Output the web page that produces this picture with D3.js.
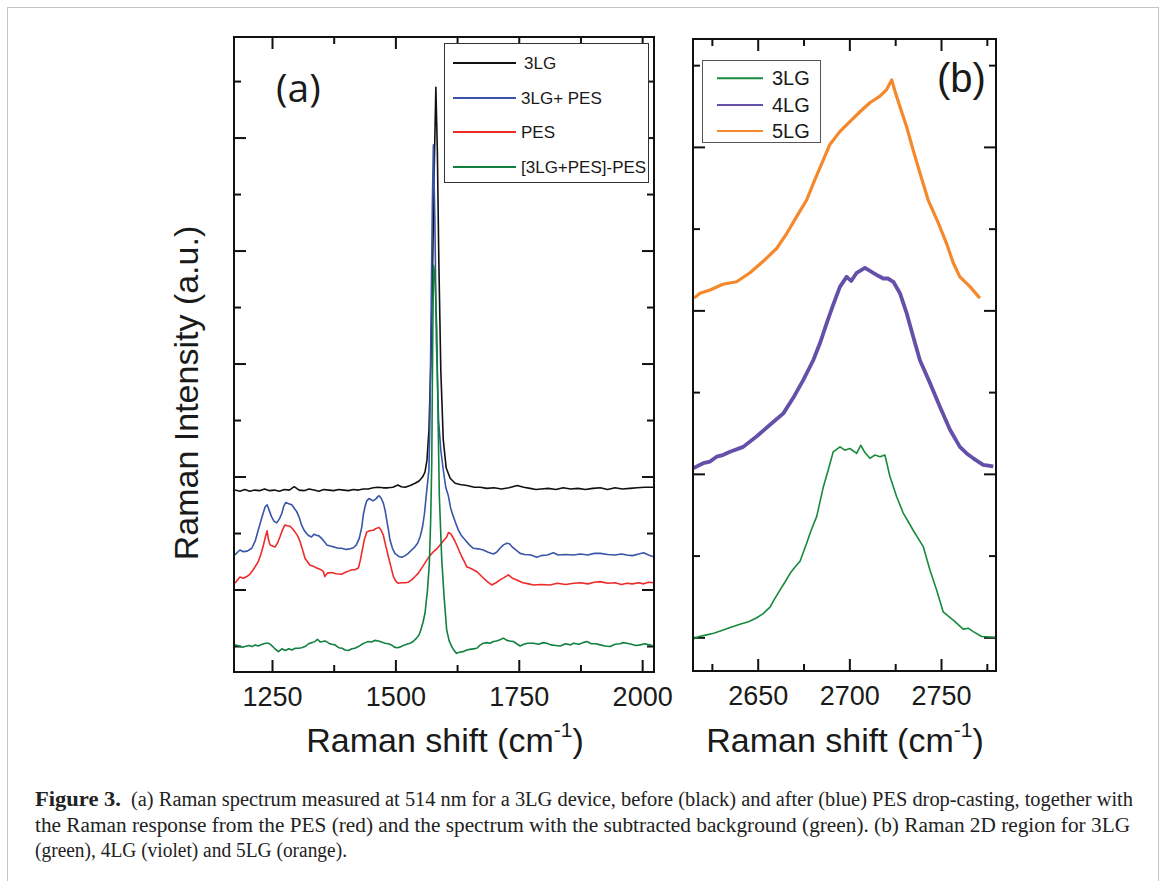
<!DOCTYPE html>
<html><head><meta charset="utf-8">
<script src="https://cdn.jsdelivr.net/npm/d3@7"></script>
<style>body{margin:0;background:#fff}</style>
</head><body><svg id="fig" width="1165" height="881"></svg>
<script>
// ---------------- DATA ----------------
// Panel (a): Raman shift (cm-1), intensity (a.u.)
const a_3LG = [[1175,27.6],[1185,27.4],[1195,27.7],[1205,27.4],[1215,27.6],[1225,27.5],[1235,27.8],[1245,27.5],[1255,27.6],[1265,27.4],[1275,27.7],[1285,27.6],[1295,28.2],[1305,27.6],[1315,27.5],[1325,27.8],[1335,27.6],[1345,27.4],[1355,27.7],[1365,27.6],[1375,27.5],[1385,27.7],[1395,27.6],[1405,27.5],[1415,27.7],[1425,27.6],[1435,27.8],[1445,27.8],[1455,28.0],[1465,28.1],[1475,28.0],[1485,28.0],[1495,28.1],[1505,28.5],[1512,28.2],[1520,28.1],[1530,28.4],[1540,28.8],[1548,29.2],[1555,29.9],[1560,30.8],[1564,32.9],[1568,38.2],[1572,50.6],[1576,70.1],[1579,86.0],[1582,98.9],[1585,87.8],[1588,68.3],[1592,48.8],[1597,36.5],[1603,31.5],[1611,29.7],[1621,28.8],[1631,28.6],[1645,28.4],[1660,28.1],[1672,28.1],[1685,27.9],[1700,28.0],[1715,27.8],[1730,28.0],[1747,28.4],[1760,28.1],[1773,27.9],[1785,27.7],[1795,27.8],[1810,27.9],[1825,27.7],[1840,28.0],[1855,27.8],[1870,27.9],[1885,27.7],[1900,27.9],[1915,28.0],[1930,27.7],[1945,28.0],[1960,27.8],[1975,27.9],[1990,28.0],[2005,28.1],[2015,28.1],[2023,28.1]];
const a_3LGPES = [[1175,16.1],[1180,16.6],[1185,17.0],[1192,16.7],[1200,16.8],[1209,17.3],[1216,18.6],[1222,20.5],[1228,22.3],[1232,23.5],[1236,24.6],[1240,25.0],[1244,24.1],[1249,22.9],[1254,22.1],[1259.5,21.8],[1265,22.5],[1270,23.5],[1274,24.8],[1278,25.4],[1284,25.2],[1290,25.0],[1295,24.4],[1300,23.8],[1305,22.8],[1310,21.4],[1315,20.5],[1320,19.9],[1325,19.5],[1330,19.3],[1335,19.8],[1340,19.6],[1345,19.5],[1350,19.1],[1355,18.6],[1361,17.9],[1368,17.7],[1377,17.5],[1384,17.3],[1391,17.3],[1400,17.1],[1408,17.2],[1415,17.4],[1421,17.9],[1427,19.1],[1432,21.1],[1435,23.2],[1438.5,24.7],[1442,25.7],[1446.6,26.1],[1451,25.9],[1455,25.7],[1460,26.0],[1464,26.4],[1467,26.6],[1471,26.2],[1475.6,25.3],[1479,24.1],[1482.5,22.3],[1486,20.5],[1489,18.8],[1494,17.3],[1499,16.4],[1506,15.9],[1513,15.7],[1520,16.0],[1526,16.4],[1533,17.0],[1540,17.6],[1545,18.2],[1550,19.3],[1555,21.1],[1559,23.5],[1563.6,27.6],[1568,31.2],[1570,40.0],[1572,55.9],[1575,78.9],[1577,88.7],[1580,75.4],[1583,54.2],[1587.5,40.0],[1592,34.7],[1597,31.2],[1602,28.1],[1607,26.7],[1612,24.4],[1617.5,22.9],[1622,21.8],[1627.7,20.5],[1634,19.5],[1641,18.8],[1650,17.9],[1658,17.3],[1668,17.2],[1678,17.0],[1688,16.6],[1698.6,16.3],[1705,16.6],[1712,17.3],[1719,17.9],[1725.8,18.2],[1731,18.1],[1736,17.6],[1744,17.0],[1752.7,16.4],[1762,16.2],[1775,16.1],[1786.6,15.7],[1795,16.0],[1808,16.1],[1820,16.5],[1830,16.1],[1845,16.2],[1861,16.1],[1875,16.3],[1890,16.1],[1903,16.4],[1915,16.4],[1930,16.2],[1945,16.1],[1958,16.3],[1969,16.1],[1980,16.0],[1993,16.3],[2003,16.5],[2013,16.1],[2023,15.8]];
const a_PES = [[1175,11.1],[1180,11.7],[1185,12.2],[1192,12.0],[1199,12.3],[1205,12.7],[1212,13.5],[1217,14.2],[1222,14.9],[1227,16.1],[1232,17.6],[1236,19.1],[1240,20.4],[1243,18.8],[1246,17.9],[1251,17.7],[1256,17.5],[1261,18.2],[1266,19.3],[1271,20.5],[1276,21.4],[1281,21.3],[1286.5,21.2],[1292,20.7],[1296.6,20.2],[1302,19.5],[1306.8,18.5],[1312,17.0],[1317,15.5],[1322,14.9],[1327,14.3],[1334,14.1],[1340.6,13.8],[1347,13.6],[1354,13.2],[1357,12.3],[1362,12.9],[1371,13.0],[1380,12.8],[1391,12.7],[1400,13.1],[1406,13.3],[1411.6,13.5],[1418,13.5],[1425,13.8],[1429,15.2],[1433,17.0],[1437,18.8],[1442,20.2],[1448,20.4],[1455,20.5],[1461,20.8],[1467,21.0],[1471,20.5],[1475.6,19.6],[1480,17.9],[1485.8,15.8],[1491,14.0],[1496,12.3],[1501,11.5],[1506,11.1],[1512,11.2],[1519.6,11.2],[1526,11.3],[1533,11.7],[1540,12.3],[1546.6,12.9],[1555,14.0],[1563.6,15.2],[1570,16.0],[1577,16.7],[1584,17.2],[1590.6,17.9],[1597,18.6],[1604,19.3],[1607.5,20.1],[1612,19.9],[1616,19.3],[1621,18.5],[1627,17.3],[1634.5,15.8],[1640,14.9],[1644.7,14.0],[1651,13.8],[1658,13.5],[1666,13.1],[1675,12.3],[1685,11.5],[1695,10.8],[1704,11.2],[1712,11.7],[1720,12.1],[1729,12.6],[1737,12.0],[1746,11.7],[1758,11.2],[1770,11.0],[1780,10.8],[1795,10.9],[1813.5,10.8],[1828,11.1],[1845,10.9],[1861,11.1],[1875,11.2],[1890,11.0],[1903,11.3],[1915,11.4],[1930,11.1],[1945,11.2],[1958,10.9],[1969,11.1],[1980,11.0],[1993,11.2],[2003,11.0],[2013,11.3],[2023,11.2]];
const a_diff = [[1175,0.2],[1183,0.0],[1190,-0.2],[1195,-0.1],[1203,0.1],[1210,-0.1],[1216,0.2],[1222,0.0],[1230,0.3],[1237,0.5],[1242.6,0.5],[1248,0.2],[1255,-0.4],[1263,-1.0],[1270,-0.5],[1277,-0.8],[1284,-0.5],[1290,-0.7],[1297,-0.4],[1304,-0.4],[1310,-0.3],[1317,-0.1],[1324,0.4],[1331,0.6],[1337,0.8],[1342,1.2],[1348,0.7],[1357.4,0.9],[1365,0.5],[1371,0.3],[1377.7,0.2],[1385,-0.3],[1392,-0.4],[1398,-0.7],[1404.7,-0.8],[1412,-0.5],[1418,-0.4],[1425,-0.1],[1432,0.3],[1439,0.6],[1445,0.8],[1452,0.7],[1458,1.0],[1465.5,0.9],[1472,0.7],[1479,0.5],[1485.8,0.4],[1492,0.2],[1498,-0.2],[1503,-0.3],[1509.5,-0.2],[1516,0.1],[1523,0.3],[1529.7,0.5],[1536,0.8],[1543,1.4],[1548,2.0],[1551.4,2.8],[1556,4.2],[1560,5.8],[1565,9.9],[1568.9,14.7],[1571.5,22.3],[1573.7,32.4],[1575.8,55.9],[1577.4,67.4],[1580,65.7],[1583.9,55.9],[1586.5,40.0],[1589.1,26.4],[1594,15.2],[1598.7,8.7],[1604,2.8],[1609,0.9],[1614.3,-0.1],[1619,-0.8],[1624,-1.3],[1630,-1.1],[1637,-1.0],[1644.7,-0.7],[1651,-0.6],[1658,-0.5],[1665,-0.4],[1671,0.1],[1678,0.5],[1685,0.6],[1692,0.5],[1698.6,0.8],[1705,0.9],[1712,1.1],[1719,1.4],[1726,1.0],[1732,0.9],[1739,0.8],[1746,0.4],[1752.7,0.0],[1760,0.3],[1768,0.5],[1779.7,0.5],[1790,0.3],[1800,0.6],[1806.8,0.5],[1815,0.2],[1825,0.1],[1834,0.0],[1845,0.4],[1855,0.2],[1861,0.5],[1872,0.3],[1880,0.6],[1888,0.8],[1897,0.4],[1906,0.4],[1915,0.2],[1925,0.0],[1935,-0.1],[1945,0.3],[1955,0.4],[1962,0.6],[1969,0.5],[1978,0.3],[1987,0.1],[1996,0.2],[2005,0.4],[2015,0.2],[2023,0.0]];

// Panel (b): 2D band
const b_3LG = [[2614.9,-0.2],[2618,0.1],[2622.2,0.3],[2626,0.5],[2631.2,0.9],[2635,1.2],[2640.3,1.6],[2645,1.9],[2649.5,2.4],[2653,2.9],[2656.7,3.7],[2659,4.6],[2662.2,5.8],[2665,6.8],[2667.6,7.8],[2670,8.5],[2673.1,9.3],[2676.7,11.5],[2679,13.0],[2682.2,14.8],[2685.8,18.4],[2688.5,20.5],[2691.2,22.7],[2694.9,23.3],[2697.5,22.9],[2700.3,23.1],[2704,22.5],[2706.2,23.5],[2708.5,22.6],[2711.2,21.9],[2714,22.3],[2716.7,22.1],[2719.4,22.3],[2722.1,19.7],[2725.8,17.2],[2729.4,15.2],[2732,14.2],[2734.8,13.1],[2740.3,11.1],[2744,8.2],[2747.6,5.8],[2751.2,3.1],[2754,2.6],[2756.7,2.1],[2762.1,1.0],[2765,1.1],[2767.6,0.7],[2772.2,0.1],[2778.5,0.0],[2780,0.0]];
const b_4LG = [[2614.9,20.7],[2620.3,21.3],[2624,21.5],[2627.6,22.1],[2631,22.3],[2634.9,22.7],[2642.1,23.3],[2649.5,24.6],[2656.7,26.0],[2664,27.4],[2669.4,29.3],[2674.9,31.5],[2680.3,33.9],[2684,36.0],[2687.6,38.4],[2691.2,40.7],[2694.9,42.9],[2698.5,44.1],[2701,43.6],[2704,44.6],[2708.5,45.2],[2713,44.6],[2716,44.2],[2718.5,43.9],[2721,43.9],[2724,43.5],[2727.6,42.1],[2731.2,39.7],[2734.8,36.8],[2738.5,33.9],[2744,31.1],[2749.4,28.2],[2754.9,25.4],[2760.3,23.3],[2764,22.5],[2767.6,21.9],[2773,21.1],[2778.5,20.9]];
const b_5LG = [[2615.3,41.5],[2618.5,42.1],[2624,42.5],[2631,43.2],[2638.5,43.5],[2645.8,44.6],[2653,46.0],[2660.4,47.6],[2665.8,49.4],[2671.3,51.5],[2676.7,53.5],[2681.2,56.0],[2685.8,58.4],[2689.4,60.3],[2694.9,61.9],[2700.3,63.1],[2705.8,64.3],[2711.2,65.4],[2716.7,66.2],[2720.3,67.0],[2723.1,68.2],[2724.9,66.8],[2727.6,64.9],[2731.2,62.5],[2734.8,59.6],[2738.5,56.8],[2743,53.5],[2748.5,50.7],[2753,48.2],[2756.7,45.8],[2760.3,44.1],[2765.8,42.9],[2771.2,41.5]];

// Ticks and labels
const xMajorA = [1250, 1500, 1750, 2000];
const xMinorA = [1375, 1625, 1875];
const yMajorA = [10, 30, 50, 70, 90];
const yMinorA = [0, 20, 40, 60, 80, 100];
const xMajorB = [2650, 2700, 2750];
const xMinorB = [2625, 2675, 2725, 2775];
const yMajorB = [0, 20, 40, 60];
const yMinorB = [10, 30, 50, 70];
const legendA = ["3LG", "3LG+ PES", "PES", "[3LG+PES]-PES"];
const legendB = ["3LG", "4LG", "5LG"];
const captionLines = [
  "(a) Raman spectrum measured at 514 nm for a 3LG device, before (black) and after (blue) PES drop-casting, together with",
  "the Raman response from the PES (red) and the spectrum with the subtracted background (green). (b) Raman 2D region for 3LG",
  "(green), 4LG (violet) and 5LG (orange)."
];

// ---------------- DRAW ----------------
const svg = d3.select('#fig');
svg.append('rect').attr('width',1165).attr('height',881).attr('fill','#fff');
svg.append('rect').attr('x',7.5).attr('y',7.5).attr('width',1151).attr('height',900)
   .attr('fill','none').attr('stroke','#c4c4c4').attr('stroke-width',1);

const FONT = "'Liberation Sans', Arial, sans-serif";

function panel(box, xDom, yDom, xMaj, xMin, yMaj, yMin, id) {
  const x = d3.scaleLinear().domain(xDom).range([box.l, box.r]);
  const y = d3.scaleLinear().domain(yDom).range([box.b, box.t]);
  const g = svg.append('g');
  const mk = (axis, tx, ty) => {
    const a = g.append('g').attr('transform', `translate(${tx},${ty})`).call(axis);
    a.select('.domain').remove();
    a.selectAll('line').attr('stroke','#111').attr('stroke-width',2);
    return a;
  };
  const bx = mk(d3.axisBottom(x).tickValues(xMaj).tickSize(-12).tickSizeOuter(0).tickPadding(15).tickFormat(d3.format('d')), 0, box.b);
  bx.selectAll('text').attr('font-family',FONT).attr('font-size',27).attr('fill','#1a1a1a');
  mk(d3.axisBottom(x).tickValues(xMin).tickSize(-7).tickSizeOuter(0).tickFormat(''), 0, box.b);
  mk(d3.axisTop(x).tickValues(xMaj).tickSize(-12).tickSizeOuter(0).tickFormat(''), 0, box.t);
  mk(d3.axisTop(x).tickValues(xMin).tickSize(-7).tickSizeOuter(0).tickFormat(''), 0, box.t);
  mk(d3.axisLeft(y).tickValues(yMaj).tickSize(-12).tickSizeOuter(0).tickFormat(''), box.l, 0);
  mk(d3.axisLeft(y).tickValues(yMin).tickSize(-7).tickSizeOuter(0).tickFormat(''), box.l, 0);
  mk(d3.axisRight(y).tickValues(yMaj).tickSize(-12).tickSizeOuter(0).tickFormat(''), box.r, 0);
  mk(d3.axisRight(y).tickValues(yMin).tickSize(-7).tickSizeOuter(0).tickFormat(''), box.r, 0);
  svg.append('clipPath').attr('id', id).append('rect')
     .attr('x', box.l).attr('y', box.t).attr('width', box.r-box.l).attr('height', box.b-box.t);
  const plot = svg.append('g').attr('clip-path', `url(#${id})`);
  const frame = () => svg.append('rect').attr('x',box.l).attr('y',box.t).attr('width',box.r-box.l).attr('height',box.b-box.t)
     .attr('fill','none').attr('stroke','#111').attr('stroke-width',2);
  return {x, y, plot, frame};
}

function line(p, data, color, w) {
  p.plot.append('path').datum(data).attr('fill','none').attr('stroke',color).attr('stroke-width',w)
    .attr('stroke-linejoin','round')
    .attr('d', d3.line().x(d=>p.x(d[0])).y(d=>p.y(d[1])));
}

function axisTitle(cx, y) {
  const t = svg.append('text').attr('x',cx).attr('y',y).attr('text-anchor','middle')
    .attr('font-family',FONT).attr('font-size',34).attr('fill','#1a1a1a');
  t.append('tspan').text('Raman shift (cm');
  t.append('tspan').attr('font-size',21).attr('dy',-15).text('-1');
  t.append('tspan').attr('dy',15).text(')');
}

// Panel (a)
const colA = ['#111111', '#3a55a8', '#ee2a2a', '#128040'];
const pA = panel({l:234, r:654, t:37, b:672}, [1173, 2024], [-4.6, 107.8], xMajorA, xMinorA, yMajorA, yMinorA, 'clipA');
[a_3LG, a_3LGPES, a_PES, a_diff].forEach((s,i) => line(pA, s, colA[i], 1.6));
pA.frame();

// legend (a)
svg.append('rect').attr('x',444.5).attr('y',43.5).attr('width',204).attr('height',139)
   .attr('fill','#fff').attr('stroke','#333').attr('stroke-width',1);
const legAy = [63, 98, 132, 167];
legendA.forEach((lab,i) => {
  svg.append('line').attr('x1',453).attr('x2',516).attr('y1',legAy[i]).attr('y2',legAy[i])
     .attr('stroke',colA[i]).attr('stroke-width',2);
  svg.append('text').attr('x', i===0 ? 524 : 521).attr('y', legAy[i]+6)
     .attr('font-family',FONT).attr('font-size',17).attr('fill','#1a1a1a').text(lab);
});
svg.append('text').attr('x',276).attr('y',102).attr('font-family',"'Open Sans', sans-serif")
   .attr('font-size',39).attr('fill','#1a1a1a').text('(a)');

// Panel (b)
const colB = ['#178a3c', '#6450a8', '#f5882a'];
const pB = panel({l:693, r:996, t:39, b:671}, [2614.7, 2780], [-4.12, 73.2], xMajorB, xMinorB, yMajorB, yMinorB, 'clipB');
line(pB, b_5LG, colB[2], 3.2);
line(pB, b_4LG, colB[1], 3.8);
line(pB, b_3LG, colB[0], 1.6);
pB.frame();

svg.append('rect').attr('x',702.5).attr('y',60.5).attr('width',118).attr('height',82)
   .attr('fill','#fff').attr('stroke','#555').attr('stroke-width',1);
const legBy = [78.3, 105, 131];
legendB.forEach((lab,i) => {
  svg.append('line').attr('x1',717).attr('x2',763).attr('y1',legBy[i]).attr('y2',legBy[i])
     .attr('stroke',colB[i]).attr('stroke-width',2);
  svg.append('text').attr('x',772).attr('y',legBy[i]+7)
     .attr('font-family',FONT).attr('font-size',20).attr('fill','#1a1a1a').text(lab);
});
svg.append('text').attr('x',937).attr('y',92).attr('font-family',FONT)
   .attr('font-size',40).attr('fill','#1a1a1a').text('(b)');

// axis titles
axisTitle(445, 752);
axisTitle(845, 752);
svg.append('text').attr('transform','translate(198,393) rotate(-90)').attr('text-anchor','middle')
   .attr('font-family',FONT).attr('font-size',34).attr('fill','#1a1a1a').text('Raman Intensity (a.u.)');

// caption
const SERIF = "'Liberation Serif', 'Times New Roman', serif";
svg.append('text').attr('x',35).attr('y',806).attr('font-family',SERIF).attr('font-weight','bold')
   .attr('font-size',20.5).attr('fill','#222').attr('textLength',86).attr('lengthAdjust','spacingAndGlyphs').text('Figure 3.');
const capX = [131, 35, 35], capW = [1002, 1095, 312], capY = [806, 832, 857];
captionLines.forEach((s,i) => {
  svg.append('text').attr('x',capX[i]).attr('y',capY[i]).attr('font-family',SERIF)
     .attr('font-size',20.5).attr('fill','#222').attr('textLength',capW[i]).attr('lengthAdjust','spacingAndGlyphs').text(s);
});
</script></body></html>
